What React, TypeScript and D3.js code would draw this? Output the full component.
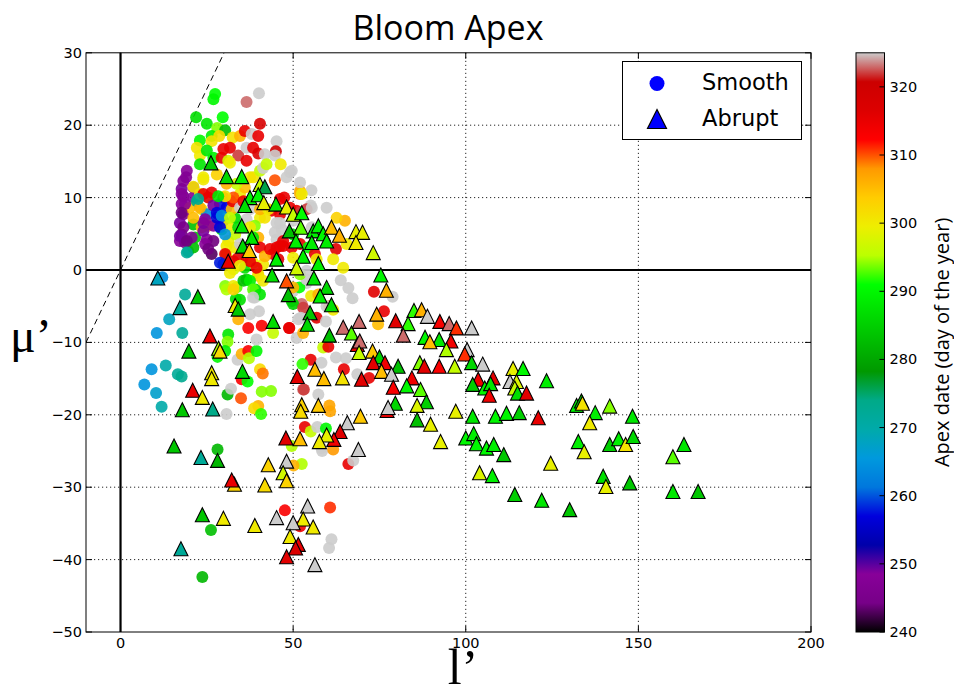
import React from 'react';
import * as d3 from 'd3';

// ---------- data ----------
const xTicks = [0, 50, 100, 150, 200];
const yTicks = [-50, -40, -30, -20, -10, 0, 10, 20, 30];
const cbTicks = [240, 250, 260, 270, 280, 290, 300, 310, 320];
const xDomain = [-10, 200];
const yDomain = [-50, 30];
const dayDomain = [240, 325];

// nipy_spectral colormap stops
const cmapStops = [0, 0.05, 0.1, 0.15, 0.2, 0.25, 0.3, 0.35, 0.4, 0.45, 0.5, 0.55, 0.6, 0.65, 0.7, 0.75, 0.8, 0.85, 0.9, 0.95, 1];
const cmapColors = ['#000000', '#770088', '#880099', '#0000aa', '#0000dd', '#0077dd', '#0099dd', '#00aaaa', '#00aa88', '#009900', '#00bb00', '#00dd00', '#00ff00', '#bbff00', '#eeee00', '#ffcc00', '#ff9900', '#ff0000', '#dd0000', '#cc0000', '#cccccc'];

// Smooth blooms: [l', mu', apex day]
const smoothPoints: [number, number, number][] = [
  [12.1, -1, 264], [18.7, -3.4, 272], [14.1, -6.8, 268], [10.5, -8.7, 265], [17.9, -8.7, 272], [9, -13.7, 265],
  [13.1, -13.2, 270], [16.6, -14.4, 272], [17.7, -14.7, 273], [6.9, -15.8, 265], [10.3, -17, 267], [11.9, -18.9, 270],
  [28.1, -24.8, 282], [31, -17.2, 282], [34.9, -17.7, 310], [32, -16.4, 325], [30.7, -19.9, 325], [33.9, -12.4, 325],
  [35.1, -11.6, 306], [37, -11.2, 313], [37.2, -12.2, 295], [39.4, -11.2, 290], [35.1, -15.1, 313], [36.8, -15.4, 291],
  [40.4, -13.7, 302], [41.2, -14.3, 309], [40.9, -16.8, 294], [43.6, -16.7, 294], [39.9, -18.8, 306], [38.7, -19.1, 302],
  [40.7, -19.9, 292], [31.2, -8.9, 288], [31, -9.9, 294], [30.3, -11.2, 289], [28.1, -12, 290], [33.6, -2.4, 293],
  [30.3, -2.2, 294], [32.7, -2.2, 300], [33.4, -4, 287], [34.1, -6.8, 306], [37, -8, 313], [40.9, -7.7, 313],
  [44.2, -8.7, 296], [39.4, -9.6, 325], [40.1, -5.7, 325], [37.5, -6.1, 325], [38.9, -3.8, 325], [36.5, -1.3, 286],
  [39.9, -0.8, 305], [39.1, -2.7, 286], [49.6, -4.3, 285], [48.8, -8, 315], [51.5, -6.8, 325], [51, -9.4, 325],
  [52.5, -4.7, 323], [52.9, -16.5, 323],
  [26.2, -35.9, 283], [23.7, -42.4, 282], [52.5, -26.8, 295], [66, -26.8, 315], [67.4, -26.3, 325], [47.6, -33.2, 313],
  [52, -35.4, 314], [60.7, -32.8, 311], [61.1, -37.2, 325], [60.4, -38.4, 325], [58.4, -25, 325],
  [55.3, 11, 325], [55.1, 8.9, 325], [52, 10.5, 325], [52, 10.9, 307], [47.4, 10, 315], [47.1, 3.3, 315],
  [62.4, 2.9, 316], [61.6, 1.5, 300], [63.8, -1.4, 325], [66, -2.5, 325], [67.2, -3.9, 325], [73.4, -3, 316],
  [78.8, -3.7, 325], [76.3, -5.7, 315], [74.6, -7.5, 305], [50, -2.9, 325], [53.9, -1.8, 325], [51.8, -2.4, 291],
  [55.2, -3.6, 300], [57.3, -3.4, 306], [60.5, -5, 310], [50, -4.7, 285], [48.9, -8, 315], [52.9, -5.2, 322],
  [59.7, -5, 325], [61.6, -5.5, 300], [52.2, -6.6, 325], [56.8, -6.6, 316], [59.5, -7.1, 325], [52.9, -8.7, 306],
  [58.7, -10.7, 296], [60.2, -10.6, 315], [62.4, -12.1, 325], [65.3, -12.2, 325], [55.1, -12.4, 315], [58.2, -12.8, 325],
  [64.7, -13.7, 315], [52.7, -13, 292], [68.6, -14.4, 325], [72, -14.9, 315], [53.1, -16.5, 322], [57.3, -17.2, 325],
  [60.5, -18.7, 307], [60.7, -19.5, 307], [53.4, -21.7, 315], [55.1, -22.3, 296], [57, -21.7, 325], [59.5, -21.9, 290],
  [49.6, -24.3, 295], [58.2, -24.6, 325], [61.6, -24.8, 308], [50.1, -27, 306],
  [27.4, 24.3, 291], [26.9, 23.6, 290], [40.1, 24.4, 325], [36.5, 23.2, 323], [40.4, 20.2, 318], [21.9, 21.1, 287],
  [25, 20.2, 288], [29.6, 21.1, 291], [28, 19.6, 294], [30.3, 19.3, 283], [23, 17.9, 290], [26.4, 18.5, 289],
  [26.4, 17.8, 301], [28.6, 18.5, 302], [32.5, 18.3, 301], [34.6, 18.5, 306], [36, 19.2, 315], [38, 18.8, 325],
  [39.9, 18.5, 315], [45.2, 17.8, 325], [45, 16.4, 320], [31.7, 16.9, 315], [29.8, 16.7, 315], [34.1, 15.8, 322],
  [36.5, 16.9, 325], [38.4, 16.9, 315], [39.9, 16.1, 317], [41.8, 16, 325], [22.1, 16.9, 301], [23, 15.8, 300],
  [25, 16.5, 288], [26.9, 15.5, 289], [29.3, 15.5, 315], [31.2, 15.1, 297], [27.9, 13.2, 303], [24, 12.5, 300],
  [21.1, 11.4, 248], [19.2, 13.7, 248], [19, 12.8, 247], [17.7, 11.2, 249], [18.2, 10.2, 245], [17.7, 9.1, 248],
  [18.2, 7.7, 245], [17.2, 6.5, 249], [17.7, 4.9, 244], [17.2, 4, 248], [18.7, 3.8, 245], [19.6, 2.6, 272],
  [21.1, 3.1, 283], [21.1, 6.3, 283], [21.6, 4.5, 285], [20.6, 4.5, 248], [21.1, 10, 248], [20.1, 8.6, 305],
  [22.1, 9.5, 274], [23, 10.5, 300], [23.5, 8.4, 300], [25, 7.7, 264], [23.5, 5.9, 305], [25.4, 6.1, 306],
  [24, 6.5, 249], [25, 4.2, 248], [26.4, 2.2, 243], [26.9, 4, 244], [26.9, 6.1, 248], [25.4, 10, 317],
  [26.4, 10.7, 315], [24, 10.5, 315], [29.8, 10, 315], [28.8, 9.1, 258], [30.7, 8.6, 257], [28.3, 7.7, 264],
  [29.8, 6.8, 258], [29.3, 5.6, 286], [31.2, 6.1, 300], [31.2, 4, 300], [33.2, 4.9, 296], [33.2, 7.2, 286],
  [27.9, 7.2, 256], [32.2, 8.4, 305], [32.5, 9.5, 315], [34.6, 8.6, 325], [34.6, 10.5, 300], [36, 11.4, 305],
  [37.5, 12.8, 300], [38.4, 12.8, 301], [40.4, 13.7, 296], [41.3, 14.1, 325], [42.3, 14.6, 296], [44.7, 15.8, 325],
  [46.4, 14.6, 300], [49.1, 13.5, 325], [48.1, 12.8, 325], [44.7, 12.4, 310], [52, 12.1, 325], [52, 10.5, 306],
  [53.9, 8.4, 322], [51, 8.2, 315], [46.2, 7.7, 315], [43.8, 8.2, 315], [40.4, 7.2, 300], [41.8, 7.2, 301],
  [46.2, 6.5, 325], [46.7, 5.6, 325], [45.2, 4.2, 325], [47.1, 4, 315], [49.6, 3.1, 315], [45.2, 3.1, 315],
  [44.2, 2.2, 315], [45.7, 1.5, 316], [50, 4.9, 288], [52, 3.6, 315], [50, 1.7, 300], [54.4, 3.1, 290],
  [56.3, 2.2, 315], [56.8, 1.5, 300], [36.5, 7, 325], [38.9, 6.1, 294], [39.9, 4.5, 306], [40.4, 3.1, 315],
  [35.1, 3.1, 315], [36.5, 1.7, 315], [34.1, 1.7, 316], [33.2, 3.1, 300], [30.7, 2.2, 300], [29.8, 0.8, 258],
  [32.7, 0.1, 297], [36, 0.3, 287], [38.4, 1, 300], [41.3, 0.8, 300], [39.9, -0.6, 301], [41.3, -1.5, 300],
  [35.6, -1.5, 283], [37.5, -1.5, 289], [30.7, -2.7, 295], [32.7, -2.7, 303], [38.4, -2.7, 293], [40.4, -3.4, 288],
  [34.6, -4.1, 287], [38.4, -3.8, 325], [53.9, -1.3, 325], [52, -0.6, 294], [53.9, -0.1, 325], [50, -2.4, 306],
  [36.5, 15.1, 315], [31.7, 14.8, 300], [23, 14.6, 288], [24, 12.8, 300], [21.1, 11.5, 301], [18.2, 12.3, 247],
  [17.7, 10.5, 248], [18.7, 9.1, 248], [17.7, 7.9, 244], [18.2, 5.9, 245], [17.2, 4.7, 249], [19.2, 4, 244],
  [19.2, 2.4, 272], [21.1, 7.2, 305], [23, 8.6, 306], [22.5, 9.8, 273], [26.9, 8.9, 249], [24.5, 7, 248],
  [24, 5.4, 249], [24.5, 3.6, 248], [25.4, 2.9, 244], [27.9, 7.9, 257], [29.3, 7.5, 264], [31.7, 7.2, 296],
  [28.8, 5.9, 257], [30.3, 4.9, 265], [32.7, 10, 310], [30.3, 10.2, 301], [28.3, 10.2, 288], [33.6, 11.9, 296],
  [30.7, 11.9, 306], [35.6, 9.5, 315], [37.5, 8.4, 325], [40.4, 8.4, 306], [42.8, 8.4, 300], [34.1, 5.9, 287],
  [37.5, 5.9, 300], [38.4, 4.5, 288], [34.6, 3.6, 325], [30.7, 3.3, 300], [30.3, 2.2, 315], [28.8, 1, 258],
  [32.7, 1.2, 315], [37.5, 1.2, 315], [34.6, 0.6, 300], [31.7, -0.4, 300], [39.4, 0.3, 315], [41.8, 1.9, 306],
  [43.3, 2.9, 315], [46.2, 3.3, 315], [44.7, 5.2, 325], [45.2, 6.5, 325], [50, 6.8, 325], [49.6, 13.7, 325],
  [52.5, 10.5, 300], [55.4, 8.6, 325], [52, 7.9, 322], [49.1, 8.6, 315], [46.2, 9.8, 315], [65, 6.8, 306],
  [65.5, 3.6, 300], [64.5, 0.3, 300], [55.4, 5.9, 325], [62.6, 7.2, 303], [59.7, 8.6, 325],
];

// Abrupt blooms: [l', mu', apex day]
const abruptPoints: [number, number, number][] = [
  [26.2, 14.8, 284], [30.7, 12.9, 286], [35.1, 12.9, 289], [40.4, 11.8, 296], [41.8, 11.5, 276], [37.5, 10, 289],
  [39.9, 10.4, 290], [41.5, 9.3, 299], [36, 8.9, 287], [45, 9.1, 288], [48.1, 8.7, 299], [50, 7.7, 296],
  [52.5, 7.9, 291], [35.1, 6.1, 288], [38, 4.5, 288], [35.4, 3.3, 286], [37.3, 2.7, 304], [31.2, 1.2, 315],
  [45.2, 1.5, 289], [48.9, 5.4, 283], [52.2, 5.9, 293], [55.8, 5.4, 289], [57.3, 6.1, 290], [58.7, 5, 290],
  [61.1, 5.9, 305], [63.4, 4.8, 306], [59.7, 4, 289], [55.4, 3.8, 289], [50.8, 4, 289], [68.2, 5.3, 299],
  [70.1, 5.2, 299], [68.2, 3.8, 300], [73.2, 2.4, 297], [52.9, 1.9, 289], [57.3, 0.9, 289], [51, 0.3, 297],
  [56, -1.1, 288], [48.1, -1.5, 310], [48.6, -3.4, 283], [59.7, -2.4, 286], [57.8, -3.6, 289], [61.1, -4.8, 287],
  [54.9, -5.9, 284], [54.1, -7.5, 286], [60.5, -9, 283], [43.9, -0.7, 287], [75.4, -0.7, 290], [77, -2.8, 306],
  [74.2, -6.1, 306], [79.7, -7, 316], [85, -5.6, 292], [87.2, -5.5, 306], [88.9, -6.4, 325], [83.3, -7.4, 292],
  [81.9, -9, 323], [92.5, -7.1, 313], [95.2, -7.4, 323], [97.3, -8, 311], [101.7, -8, 325], [88.2, -9.3, 290],
  [92.3, -9.6, 288], [89.6, -9.9, 305], [95.7, -9.8, 314], [94.4, -11, 295], [100.4, -11, 325], [99.7, -11.6, 311],
  [101.7, -12.8, 286], [104.9, -13, 325], [86.7, -12.8, 294], [88, -13.3, 316], [92.3, -13.3, 313], [96.8, -13.3, 296],
  [103.6, -15.1, 314], [107.9, -14.9, 316], [102, -15.8, 285], [105.5, -16.3, 290], [107.2, -15.7, 288], [106.8, -17.3, 314],
  [113.7, -13.6, 299], [116.6, -13.6, 290], [112.8, -15.4, 325], [114.7, -15.4, 298], [114.2, -16.3, 296], [115, -17, 287],
  [117.6, -17, 316], [64.5, -7.9, 323], [66.9, -8.7, 293], [69.1, -7.1, 323], [68.6, -10.3, 316], [69.3, -9.8, 323],
  [69.1, -11.4, 296], [73, -11.2, 304], [75, -12, 285], [73.2, -12.8, 316], [76.6, -12.8, 314], [80.4, -13.3, 283],
  [75.6, -14, 305], [78.5, -14.4, 325], [64.3, -14.9, 301], [69.8, -15.1, 316], [84.4, -14.9, 314], [79, -16.2, 313],
  [82.9, -16, 290], [86.9, -16.5, 293], [88.6, -18.2, 285], [85.9, -18.7, 298], [79.6, -18.4, 286], [77.2, -19.4, 316],
  [77.5, -19, 325], [85.9, -20.7, 283], [89.8, -21.3, 299], [97.1, -19.5, 299], [102, -20.2, 288], [108.6, -20.2, 290],
  [111.8, -19.8, 290], [115.5, -19.7, 285], [92.7, -23.7, 299], [100, -23.2, 290], [102.3, -22.6, 289], [103.1, -24, 290],
  [106, -24.6, 290], [108.1, -24.1, 289], [111, -25.5, 284], [104, -28, 298], [107.7, -28.4, 289], [69.5, -20.2, 304],
  [65.7, -21.1, 325], [63.6, -22.3, 316], [61.8, -23.4, 314], [68.9, -24.8, 325], [123.4, -15.3, 289], [121, -20.4, 315],
  [124.6, -26.7, 299], [132.1, -18.7, 290], [133.5, -18.1, 286], [133.8, -18.4, 301], [137.5, -19.7, 289], [141.7, -18.8, 294],
  [135.9, -21.1, 300], [148.3, -20.2, 288], [132.6, -23.7, 289], [134.3, -25.1, 299], [141.7, -24.1, 285], [144.3, -23.3, 289],
  [146.3, -24.1, 301], [148.5, -23, 286], [160, -25.8, 293], [163.2, -24.1, 288], [114.2, -31, 285], [122, -31.8, 288],
  [130.1, -33.1, 284], [139.8, -28.5, 287], [140.6, -29.9, 299], [147.5, -29.4, 284], [160, -30.6, 288], [167.3, -30.6, 284],
  [10.8, -1.1, 268], [22.4, -3.7, 284], [17.2, -5.2, 272], [25.9, -9.1, 315], [19.8, -11.2, 284], [28.4, -10.8, 295],
  [28.8, -11.2, 302], [26.4, -14.2, 300], [26.4, -15, 300], [20.9, -16.6, 315], [23.7, -17.6, 300], [17.9, -19.3, 284],
  [26.7, -19.2, 274], [35.3, -14, 286], [33.2, -4.9, 300], [34.1, -5.4, 284], [44.2, -7.1, 287], [51.2, -14.7, 316],
  [52.5, -18.6, 303], [52.2, -19.5, 302], [56.3, -13.7, 305], [58.9, -15, 305], [57.3, -18.7, 304], [59.7, -22.8, 299],
  [57.6, -23.7, 300], [47.9, -23.2, 316], [52, -23.3, 305], [48.1, -26.4, 325], [47.1, -28, 297], [48.1, -29.1, 303],
  [15.5, -24.3, 284], [23.3, -25.9, 272], [28.1, -26.3, 282], [42.8, -26.9, 303], [33, -29.6, 303], [32.2, -29, 315],
  [41.8, -29.7, 302], [54.2, -32.6, 325], [45.2, -34.2, 325], [52.9, -34.4, 300], [55.8, -35.5, 300], [50, -34.9, 325],
  [49.1, -36.8, 300], [51.5, -37.9, 315], [50.7, -38.4, 317], [48.1, -39.6, 316], [56.3, -40.7, 325], [23.7, -33.8, 284],
  [29.8, -34.3, 300], [38.9, -35.3, 300], [17.5, -38.5, 272],
];

const refLine = [-10, 30];

// ---------- layout ----------
const W = 954;
const H = 696;
const plot = { left: 86, right: 811, top: 52.8, bottom: 632 };
const cb = { left: 856, right: 884.5, top: 52.8, bottom: 632 };

const tri = (cx: number, cy: number, h: number) =>
  `M${cx},${cy - h}L${cx + h},${cy + h}L${cx - h},${cy + h}Z`;

export default function App() {
  const x = d3.scaleLinear().domain(xDomain).range([plot.left, plot.right]);
  const y = d3.scaleLinear().domain(yDomain).range([plot.bottom, plot.top]);
  const color = d3
    .scaleLinear<string>()
    .domain(cmapStops.map((s) => dayDomain[0] + s * (dayDomain[1] - dayDomain[0])))
    .range(cmapColors)
    .interpolate(d3.interpolateRgb)
    .clamp(true);
  const cbY = d3.scaleLinear().domain(dayDomain).range([cb.bottom, cb.top]);

  const tickFont = "'DejaVu Sans', sans-serif";
  const gridX = xTicks.filter((v) => v !== 0 && v !== xDomain[1]);
  const gridY = yTicks.filter((v) => v !== 0 && v !== yDomain[0] && v !== yDomain[1]);
  const line = d3.line<number>().x((v) => x(v)).y((v) => y(v));

  return (
    <svg width={W} height={H} style={{ position: 'absolute', left: 0, top: 0, background: '#fff' }}>
      <defs>
        <clipPath id="plotClip">
          <rect x={plot.left} y={plot.top} width={plot.right - plot.left} height={plot.bottom - plot.top} />
        </clipPath>
        <linearGradient id="cbGrad" x1="0" y1="1" x2="0" y2="0">
          {cmapStops.map((s, i) => (
            <stop key={i} offset={s} stopColor={cmapColors[i]} />
          ))}
        </linearGradient>
      </defs>

      <rect x={0} y={0} width={W} height={H} fill="#fff" />

      {/* title */}
      <text x={448} y={40} textAnchor="middle" fontFamily="'Open Sans', sans-serif" fontSize={34} fill="#000">
        Bloom Apex
      </text>

      {/* grid */}
      <g stroke="#000" strokeWidth={1} strokeDasharray="1.2,2.8" opacity={0.85}>
        {gridX.map((v) => (
          <line key={'gx' + v} x1={x(v)} x2={x(v)} y1={plot.top} y2={plot.bottom} />
        ))}
        {gridY.map((v) => (
          <line key={'gy' + v} x1={plot.left} x2={plot.right} y1={y(v)} y2={y(v)} />
        ))}
      </g>

      {/* zero lines */}
      <line x1={x(0)} x2={x(0)} y1={plot.top} y2={plot.bottom} stroke="#000" strokeWidth={2.2} />
      <line x1={plot.left} x2={plot.right} y1={y(0)} y2={y(0)} stroke="#000" strokeWidth={2.2} />

      {/* reference 1:1 line */}
      <path d={line(refLine) || ''} stroke="#000" strokeWidth={1} strokeDasharray="6,4" fill="none" clipPath="url(#plotClip)" />

      {/* smooth points */}
      <g clipPath="url(#plotClip)">
        {smoothPoints.map((p, i) => (
          <circle key={'s' + i} cx={x(p[0])} cy={y(p[1])} r={6} fill={color(p[2])} fillOpacity={0.9} />
        ))}
      </g>

      {/* abrupt points */}
      <g clipPath="url(#plotClip)">
        {abruptPoints.map((p, i) => (
          <path key={'a' + i} d={tri(x(p[0]), y(p[1]), 7)} fill={color(p[2])} stroke="#000" strokeWidth={1.1} strokeLinejoin="miter" />
        ))}
      </g>

      {/* frame */}
      <rect x={plot.left} y={plot.top} width={plot.right - plot.left} height={plot.bottom - plot.top} fill="none" stroke="#000" strokeWidth={1} />

      {/* ticks */}
      <g stroke="#000" strokeWidth={1}>
        {xTicks.map((v) => (
          <g key={'xt' + v}>
            <line x1={x(v)} x2={x(v)} y1={plot.bottom} y2={plot.bottom - 6} />
            <line x1={x(v)} x2={x(v)} y1={plot.top} y2={plot.top + 6} />
          </g>
        ))}
        {yTicks.map((v) => (
          <g key={'yt' + v}>
            <line x1={plot.left} x2={plot.left + 6} y1={y(v)} y2={y(v)} />
            <line x1={plot.right} x2={plot.right - 6} y1={y(v)} y2={y(v)} />
          </g>
        ))}
      </g>
      <g fontFamily={tickFont} fontSize={14.5} fill="#000">
        {xTicks.map((v) => (
          <text key={'xl' + v} x={x(v)} y={plot.bottom + 16} textAnchor="middle">
            {String(v)}
          </text>
        ))}
        {yTicks.map((v) => (
          <text key={'yl' + v} x={plot.left - 4} y={y(v) + 5} textAnchor="end">
            {v < 0 ? '\u2212' + Math.abs(v) : String(v)}
          </text>
        ))}
      </g>

      {/* axis labels */}
      <text x={10} y={352} fontFamily="'Liberation Serif', serif" fontSize={48} fill="#000">
        μ’
      </text>
      <text x={463} y={684} textAnchor="middle" fontFamily="'Liberation Serif', serif" fontSize={50} fill="#000">
        l’
      </text>

      {/* legend */}
      <rect x={622.5} y={61.5} width={179} height={78} fill="#fff" stroke="#000" strokeWidth={1} />
      <circle cx={657} cy={83.5} r={7.5} fill="#0000ff" />
      <path d={tri(657, 119, 9.5)} fill="#0000ff" stroke="#000" strokeWidth={1.2} />
      <text x={702} y={90} fontFamily={tickFont} fontSize={22.5} fill="#000">Smooth</text>
      <text x={702} y={126} fontFamily={tickFont} fontSize={22.5} fill="#000">Abrupt</text>

      {/* colorbar */}
      <rect x={cb.left} y={cb.top} width={cb.right - cb.left} height={cb.bottom - cb.top} fill="url(#cbGrad)" stroke="#000" strokeWidth={1} />
      <g stroke="#000" strokeWidth={1}>
        {cbTicks.map((v) => (
          <line key={'ct' + v} x1={cb.right} x2={cb.right - 5} y1={cbY(v)} y2={cbY(v)} />
        ))}
      </g>
      <g fontFamily={tickFont} fontSize={14.5} fill="#000">
        {cbTicks.map((v) => (
          <text key={'cl' + v} x={cb.right + 5} y={cbY(v) + 5}>
            {String(v)}
          </text>
        ))}
      </g>
      <text
        transform={`translate(949,${(cb.top + cb.bottom) / 2}) rotate(-90)`}
        textAnchor="middle"
        fontFamily="'Open Sans', sans-serif"
        fontSize={20}
        fill="#000"
      >
        Apex date (day of the year)
      </text>
    </svg>
  );
}
